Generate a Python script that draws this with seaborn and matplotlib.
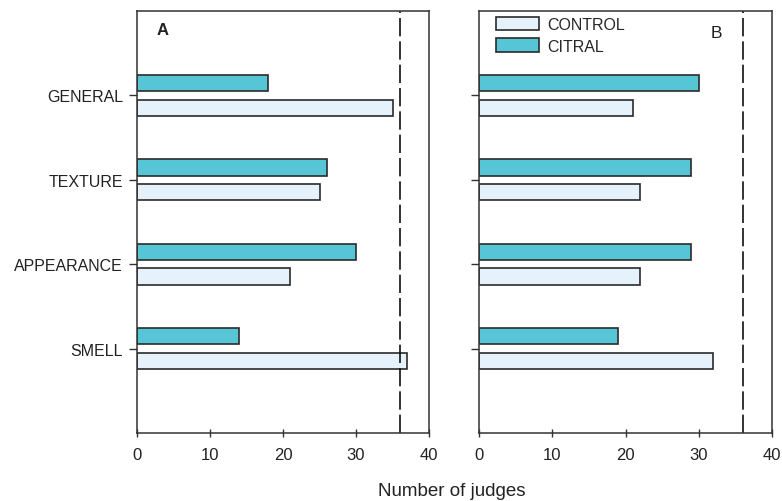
import matplotlib
matplotlib.use("Agg")
import matplotlib.pyplot as plt
import seaborn as sns
import pandas as pd
from matplotlib.patches import Patch

categories = ["GENERAL", "TEXTURE", "APPEARANCE", "SMELL"]
control_A = [35, 25, 21, 37]
citral_A = [18, 26, 30, 14]
control_B = [21, 22, 22, 32]
citral_B = [30, 29, 29, 19]
threshold = 36
xticks = [0, 10, 20, 30, 40]

sns.set_theme(style="white")
plt.rcParams["font.family"] = ["Liberation Sans", "DejaVu Sans"]

def make_df(control, citral):
    rows = []
    for c, v in zip(categories, control):
        rows.append({"cat": c, "group": "CONTROL", "n": v})
    for c, v in zip(categories, citral):
        rows.append({"cat": c, "group": "CITRAL", "n": v})
    return pd.DataFrame(rows)

palette = {"CONTROL": "#E6F2FB", "CITRAL": "#56C6D6"}
edge = "#2a2a2a"

fig = plt.figure(figsize=(7.82, 5.02), dpi=100)
axA = fig.add_axes([137/782, 1-434/502, 292/782, (434-12)/502])
axB = fig.add_axes([479/782, 1-434/502, 293/782, (434-12)/502])

for ax, ctrl, cit in [(axA, control_A, citral_A), (axB, control_B, citral_B)]:
    df = make_df(ctrl, cit)
    sns.barplot(data=df, y="cat", x="n", hue="group", order=categories,
                hue_order=["CITRAL", "CONTROL"], palette=palette,
                orient="h", width=0.58, gap=0.34, edgecolor=edge,
                linewidth=1.2, saturation=1, ax=ax, legend=False)
    ax.axvline(threshold, color="#111111", lw=1.2, dashes=(11, 3))
    ax.set_xlim(0, 40)
    ax.set_ylim(len(categories), -1)
    ax.set_xticks(xticks)
    ax.set_xticklabels([str(t) for t in xticks], fontsize=12, color="#222222")
    ax.tick_params(axis="x", bottom=True, direction="inout", length=6, width=1,
                   color="#333333", pad=7)
    ax.tick_params(axis="y", left=True, direction="out", length=6, width=1,
                   color="#333333", pad=4)
    ax.set_xlabel("")
    ax.set_ylabel("")
    for s in ax.spines.values():
        s.set_visible(True)
        s.set_color("#333333")
        s.set_linewidth(1.1)

axA.set_yticklabels(categories, fontsize=11.5, color="#222222")
axB.set_yticklabels([])

axA.text(0.068, 0.975, "A", transform=axA.transAxes, fontsize=12, fontweight="bold",
         va="top", ha="left", color="#222222")
axB.text(0.79, 0.967, "B", transform=axB.transAxes, fontsize=12.5,
         va="top", ha="left", color="#222222")

handles = [Patch(facecolor=palette["CONTROL"], edgecolor=edge, lw=1.2),
           Patch(facecolor=palette["CITRAL"], edgecolor=edge, lw=1.2)]
axB.legend(handles, ["CONTROL", "CITRAL"], loc="upper left",
           bbox_to_anchor=(0.01, 1.02), frameon=False, fontsize=11.5,
           handlelength=2.7, handleheight=0.9, labelspacing=0.4,
           handletextpad=0.5)

fig.text(452/782, 1-492/502, "Number of judges", ha="center", va="center",
         fontsize=13.5, color="#222222")

fig.savefig("out.png", dpi=100)
